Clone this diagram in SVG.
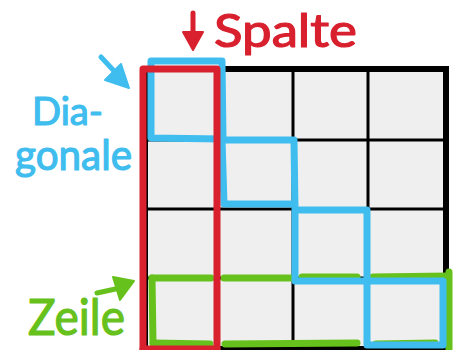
<svg xmlns="http://www.w3.org/2000/svg" width="454" height="350" viewBox="0 0 454 350">
<style>
.grid{stroke:#000;fill:none}
.hl{fill:none;stroke-linecap:round;stroke-linejoin:round}
.red{stroke:#d8202e}
.blue{stroke:#3fbdee}
.green{stroke:#67c11c}
.lbl{font-family:Lato,"Open Sans","Liberation Sans",sans-serif;stroke-width:1.2;stroke-linejoin:round}
</style>
<rect width="454" height="350" fill="#fff"/>
<g id="grid">
  <rect x="145" y="69" width="301" height="280" fill="#efefef"/>
  <g class="grid" stroke-width="3">
    <line x1="218" y1="69" x2="218" y2="349"/>
    <line x1="293" y1="69" x2="293" y2="349"/>
    <line x1="368" y1="69" x2="368" y2="349"/>
    <line x1="145" y1="140" x2="446" y2="140"/>
    <line x1="145" y1="209" x2="446" y2="209"/>
    <line x1="145" y1="278" x2="446" y2="278"/>
  </g>
  <rect class="grid" x="145" y="69" width="301" height="280" stroke-width="6"/>
</g>
<g id="zeile-row" class="hl green" stroke-width="7">
  <line x1="152" y1="278" x2="211" y2="278"/>
  <line x1="224" y1="278" x2="291" y2="278"/>
  <line x1="302" y1="277" x2="357" y2="277"/>
  <line x1="373" y1="277" x2="448" y2="276"/>
  <line x1="449" y1="272" x2="449" y2="352"/>
  <line x1="152" y1="278" x2="153" y2="343"/>
  <line x1="153" y1="343" x2="210" y2="344"/>
  <line x1="225" y1="344" x2="357" y2="343"/>
  <line x1="376" y1="344" x2="435" y2="343"/>
</g>
<g id="diagonale-cells" class="hl blue" stroke-width="7">
  <path d="M151,61 L222,61 L223,140 L294,140 L295,210 L367,210 L367,281 L443,281 L443,345 L367,345 L367,281 L295,281 L295,204 L224,204 L222,139 L151,138 Z"/>
</g>
<g id="spalte-column" class="hl red" stroke-width="7">
  <path d="M143,352 L143,69 L217,69 L217,352"/>
  <line x1="143" y1="349" x2="217" y2="349"/>
</g>
<g id="label-spalte">
  <line class="hl red" x1="193" y1="13" x2="193" y2="36" stroke-width="5"/>
  <polygon points="183,32 203,32 193,50" fill="#d8202e" stroke="#d8202e" stroke-width="2" stroke-linejoin="round"/>
  <text class="lbl" x="214" y="47" font-size="46" fill="#d8202e" stroke="#d8202e" textLength="143" lengthAdjust="spacingAndGlyphs">Spalte</text>
</g>
<g id="label-diagonale">
  <line class="hl blue" x1="101" y1="57" x2="115" y2="72" stroke-width="5"/>
  <polygon points="105,80 121,64 129,88" fill="#3fbdee" stroke="#3fbdee" stroke-width="2" stroke-linejoin="round"/>
  <text class="lbl" x="32" y="125" font-size="38" fill="#3fbdee" stroke="#3fbdee" textLength="71" lengthAdjust="spacingAndGlyphs">Dia-</text>
  <text class="lbl" x="15" y="170" font-size="42" fill="#3fbdee" stroke="#3fbdee" textLength="117" lengthAdjust="spacingAndGlyphs">gonale</text>
</g>
<g id="label-zeile">
  <line class="hl green" x1="97" y1="293" x2="120" y2="288" stroke-width="5"/>
  <polygon points="113,277 134,281 120,300" fill="#67c11c" stroke="#67c11c" stroke-width="2" stroke-linejoin="round"/>
  <text class="lbl" x="28" y="335" font-size="50" fill="#67c11c" stroke="#67c11c" textLength="97" lengthAdjust="spacingAndGlyphs">Zeile</text>
</g>
</svg>
